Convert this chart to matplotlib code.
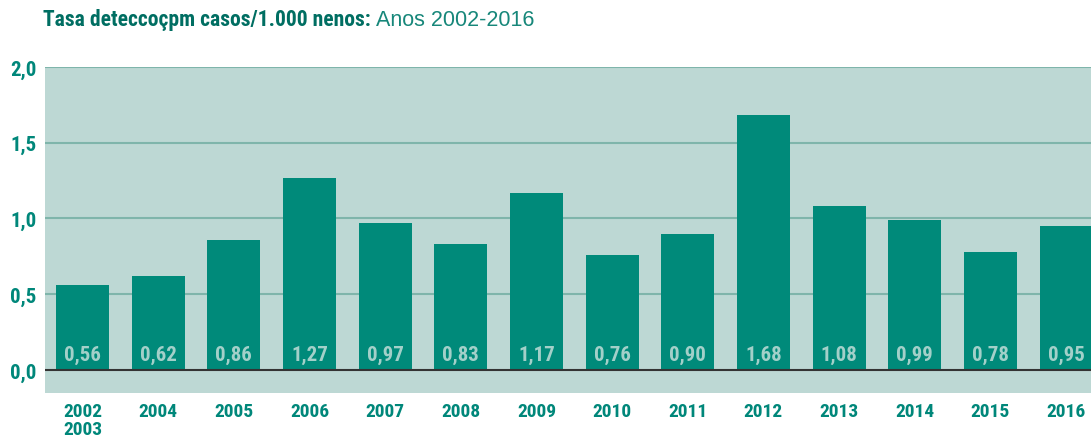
import matplotlib
matplotlib.use("Agg")
import matplotlib.pyplot as plt
from matplotlib import font_manager

years = ["2002\n2003", "2004", "2005", "2006", "2007", "2008", "2009",
         "2010", "2011", "2012", "2013", "2014", "2015", "2016"]
rates = [0.56, 0.62, 0.86, 1.27, 0.97, 0.83, 1.17,
         0.76, 0.90, 1.68, 1.08, 0.99, 0.78, 0.95]
yticks = [0.0, 0.5, 1.0, 1.5, 2.0]

# pick a condensed sans if one is around
names = {f.name for f in font_manager.fontManager.ttflist}
cond = "DejaVu Sans"
for cand in ["Roboto Condensed", "Archivo Narrow", "PT Sans Narrow",
             "Liberation Sans Narrow", "Arimo", "Liberation Sans"]:
    if cand in names:
        cond = cand
        break
plt.rcParams["font.family"] = [cond, "DejaVu Sans"]

bar_c = "#008A7A"
bg_c = "#BDD8D4"
grid_c = "#7FB5AB"
txt_c = "#00877A"

fig = plt.figure(figsize=(10.91, 4.39), dpi=100)
ax = fig.add_axes([45 / 1091, 45 / 439, 1 - 45 / 1091, (394 - 68) / 439])
ax.set_facecolor(bg_c)

x = range(len(years))
ax.bar(x, rates, width=0.70, color=bar_c, zorder=2)
for xi, v in zip(x, rates):
    ax.text(xi, 0.10, f"{v:.2f}".replace(".", ","), ha="center", va="center",
            color="#A3D0C9", fontsize=15, fontweight="bold", zorder=3)

for yt in yticks[1:]:
    ax.axhline(yt, color=grid_c, lw=1.5, zorder=1)
ax.axhline(0, color="#333333", lw=1.5, zorder=3)

ax.set_xlim(-0.496, 13.33)
ax.set_ylim(-0.152, 2.0)
ax.set_yticks(yticks)
ax.set_yticklabels([f"{t:.1f}".replace(".", ",") for t in yticks],
                   color=txt_c, fontsize=15, fontweight="bold")
ax.set_xticks(list(x))
ax.set_xticklabels(years, color=txt_c, fontsize=14, fontweight="bold",
                   linespacing=1.0, va="top")
ax.tick_params(length=0, axis="y", pad=6)
ax.tick_params(length=0, axis="x", pad=6.5)
for s in ax.spines.values():
    s.set_visible(False)

ty = 1 - 20 / 439
t1 = fig.text(43 / 1091, ty, "Tasa deteccoçpm casos/1.000 nenos:",
              color="#006E62", fontsize=15.6, fontweight="black",
              va="center", ha="left")
r = fig.canvas.get_renderer()
bb = t1.get_window_extent(renderer=r)
fig.text((bb.x1 + 5) / 1091, ty, "Anos 2002-2016",
         family=["Liberation Sans", "DejaVu Sans"],
         color="#17877A", fontsize=15.5, va="center", ha="left")

fig.savefig("out.png", dpi=100)
